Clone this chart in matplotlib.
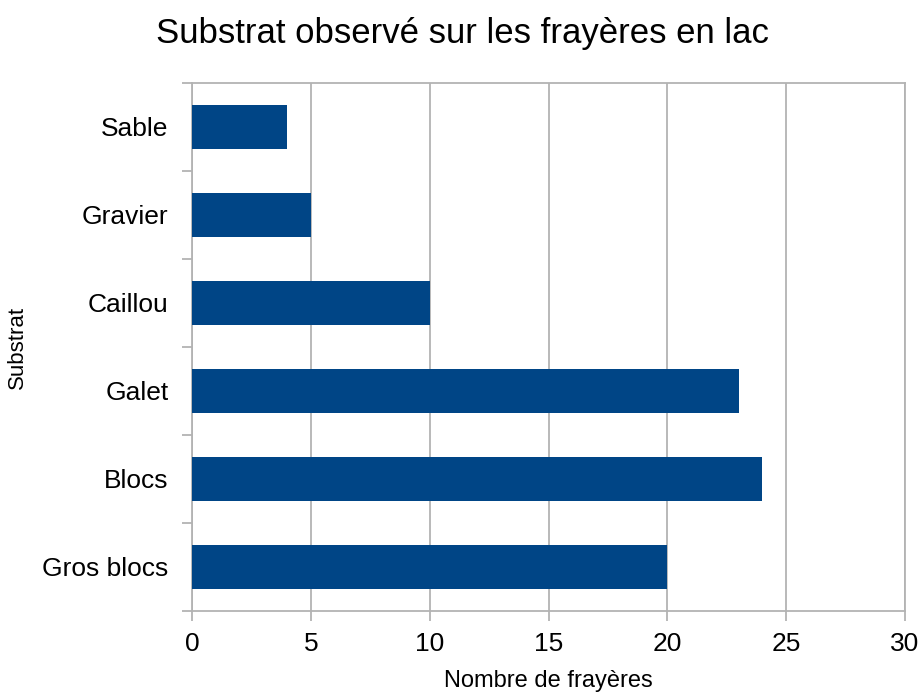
import matplotlib
matplotlib.use("Agg")
import matplotlib.pyplot as plt

plt.rcParams['font.family'] = ['Liberation Sans', 'DejaVu Sans']

categories = ["Gros blocs", "Blocs", "Galet", "Caillou", "Gravier", "Sable"]
values = [20, 24, 23, 10, 5, 4]
xticks = [0, 5, 10, 15, 20, 25, 30]

fig = plt.figure(figsize=(9.22, 6.92), dpi=100)
ax = fig.add_axes([192/922, 1-611/692, (905-192)/922, (611-83)/692])

grey = '#b3b3b3'
ypos = list(range(len(categories)))
ax.barh(ypos, values, height=0.5, color='#004586', zorder=3)

ax.set_xlim(0, 30)
ax.set_ylim(-0.5, len(categories)-0.5)
ax.set_xticks(xticks)
ax.set_xticklabels([str(t) for t in xticks], fontsize=19)
ax.set_yticks(ypos)
ax.set_yticklabels(categories, fontsize=19)
ax.set_yticks([i-0.5 for i in range(len(categories)+1)], minor=True)
ax.tick_params(axis='y', which='major', length=0, pad=17)
ax.tick_params(axis='y', which='minor', length=7, color=grey, width=1.3)
ax.tick_params(axis='x', which='major', length=7, color=grey, width=1.3, pad=8)
ax.grid(axis='x', color=grey, linewidth=1.3, zorder=0)
for s in ax.spines.values():
    s.set_color(grey)
    s.set_linewidth(1.3)

ax.set_xlabel("Nombre de frayères", fontsize=17, labelpad=10)
ax.set_ylabel("Substrat", fontsize=16, labelpad=10)
fig.text(462/922, 1-33/692, "Substrat observé sur les frayères en lac", fontsize=25, ha='center', va='center')

fig.savefig("out.png", dpi=100)
